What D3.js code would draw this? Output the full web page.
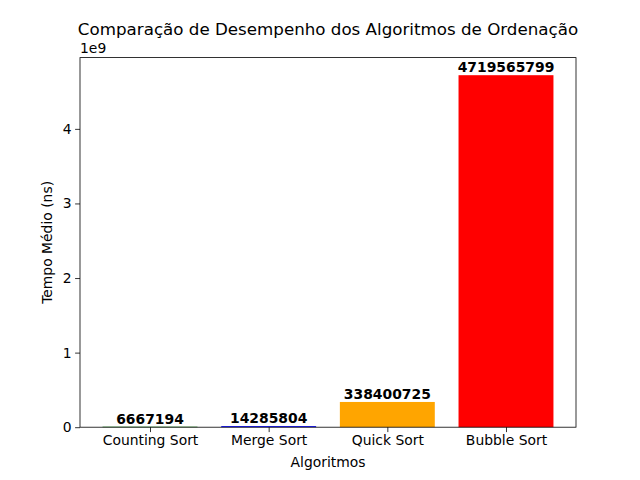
<!DOCTYPE html>
<html><head><meta charset="utf-8">
<script src="https://cdn.jsdelivr.net/npm/d3@7"></script>
<style>body{margin:0;background:#fff}text{font-family:"DejaVu Sans",sans-serif}</style>
</head><body><svg id="c" width="640" height="480"></svg>
<script>
const categories = ["Counting Sort","Merge Sort","Quick Sort","Bubble Sort"];
const values = [6667194, 14285804, 338400725, 4719565799];
const colors = ["green","blue","orange","red"];
const yTicks = [0,1e9,2e9,3e9,4e9];

const svg = d3.select("#c");
const L=80,R=576,T=57.6,B=427.2;
const x = d3.scaleLinear().domain([-0.59,3.59]).range([L,R]);
const ymax = d3.max(values)*1.05;
const y = d3.scaleLinear().domain([0,ymax]).range([B,T]);
const bw = x(0.8)-x(0);

svg.append("g").selectAll("rect").data(values).join("rect")
 .attr("x",(d,i)=>x(i-0.4)).attr("width",bw)
 .attr("y",d=>y(d)).attr("height",d=>B-y(d))
 .attr("fill",(d,i)=>colors[i]);

svg.append("g").selectAll("text").data(values).join("text")
 .attr("x",(d,i)=>x(i)).attr("y",d=>y(d)-3)
 .attr("text-anchor","middle").attr("font-size","13.9px").attr("font-weight","bold")
 .text(d=>d);

const xa = svg.append("g").attr("transform",`translate(0,${B})`)
 .call(d3.axisBottom(x).tickValues(d3.range(categories.length)).tickFormat(i=>categories[i]).tickSizeOuter(0).tickSize(4.9).tickPadding(3.5));
const ya = svg.append("g").attr("transform",`translate(${L},0)`)
 .call(d3.axisLeft(y).tickValues(yTicks).tickFormat(d=>d/1e9).tickSizeOuter(0).tickSize(4.9).tickPadding(3.5));
[xa,ya].forEach(a=>{a.select(".domain").remove();a.selectAll("text").attr("font-size","13.9px").attr("fill","#000").style("font-family","DejaVu Sans");a.selectAll("line").attr("stroke","#000").attr("stroke-width",0.8);});

svg.append("rect").attr("x",L).attr("y",T).attr("width",R-L).attr("height",B-T)
 .attr("fill","none").attr("stroke","#000").attr("stroke-width",0.8);

svg.append("text").attr("x",L).attr("y",T-5).attr("font-size","13.9px").text("1e9");
svg.append("text").attr("x",(L+R)/2).attr("y",T-23).attr("text-anchor","middle").attr("font-size","16.7px").text("Comparação de Desempenho dos Algoritmos de Ordenação");
svg.append("text").attr("x",(L+R)/2).attr("y",467).attr("text-anchor","middle").attr("font-size","13.9px").text("Algoritmos");
svg.append("text").attr("transform",`translate(52,${(T+B)/2}) rotate(-90)`).attr("text-anchor","middle").attr("font-size","13.9px").text("Tempo Médio (ns)");
</script></body></html>
